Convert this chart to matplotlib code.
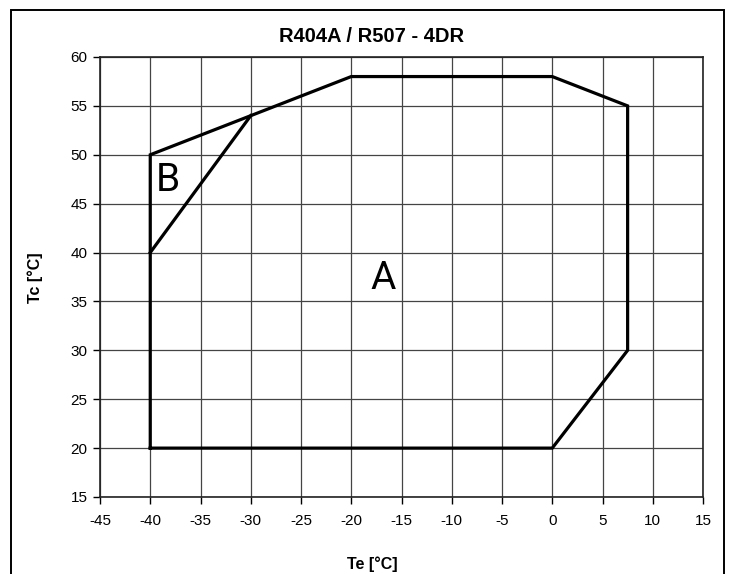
import matplotlib
matplotlib.use('Agg')
import matplotlib.pyplot as plt
from matplotlib.patches import Rectangle

# envelope corners (Te, Tc)
te_a = [-40, -40, -20, 0, 7.5, 7.5, 0, -40]
tc_a = [20, 50, 58, 58, 55, 30, 20, 20]
# line separating zone B
te_b = [-40, -30]
tc_b = [40, 54]

x_ticks = list(range(-45, 20, 5))
y_ticks = list(range(15, 65, 5))

plt.rcParams['axes.unicode_minus'] = False

W, H = 733, 574
fig = plt.figure(figsize=(W / 100, H / 100), dpi=100)
ax = fig.add_axes([100 / W, 1 - 497 / H, (703 - 100) / W, (497 - 57) / H])

ax.plot(te_a, tc_a, color='black', lw=2.3, solid_joinstyle='miter', zorder=3)
ax.plot(te_b, tc_b, color='black', lw=2.3, zorder=3)

ax.set_xlim(-45, 15)
ax.set_ylim(15, 60)
ax.set_xticks(x_ticks)
ax.set_yticks(y_ticks)
ax.grid(True, color='#444444', lw=0.9)
ax.tick_params(direction='out', length=5, width=1, labelsize=11, pad=4)
for lab in ax.get_xticklabels() + ax.get_yticklabels():
    lab.set_fontfamily('Liberation Sans')
ax.tick_params(axis='x', pad=7)
for s in ax.spines.values():
    s.set_linewidth(1.2)
    s.set_color('#222222')

ax.text(-16.8, 37.3, 'A', fontsize=28, fontfamily='Roboto', ha='center', va='center')
ax.text(-38.2, 47.4, 'B', fontsize=28, fontfamily='Roboto', ha='center', va='center')

fig.text(372 / W, 1 - 37 / H, 'R404A / R507 - 4DR', fontsize=14.5, fontweight='bold',
         fontfamily='Liberation Sans', ha='center', va='center')
fig.text(372 / W, 1 - 564 / H, 'Te [°C]', fontsize=11.5, fontweight='bold',
         fontfamily='Liberation Sans', ha='center', va='center')
fig.text(35 / W, 1 - 278 / H, 'Tc [°C]', fontsize=11.5, fontweight='bold',
         fontfamily='Liberation Sans', ha='center', va='center', rotation=90)

# outer frame (bottom edge is cut off in the original)
fig.add_artist(Rectangle((11 / W, -0.05), (724 - 11) / W, 1.05 - 10 / H,
                         transform=fig.transFigure, fill=False, lw=1.4, ec='black'))

fig.savefig('out.png', dpi=100)
